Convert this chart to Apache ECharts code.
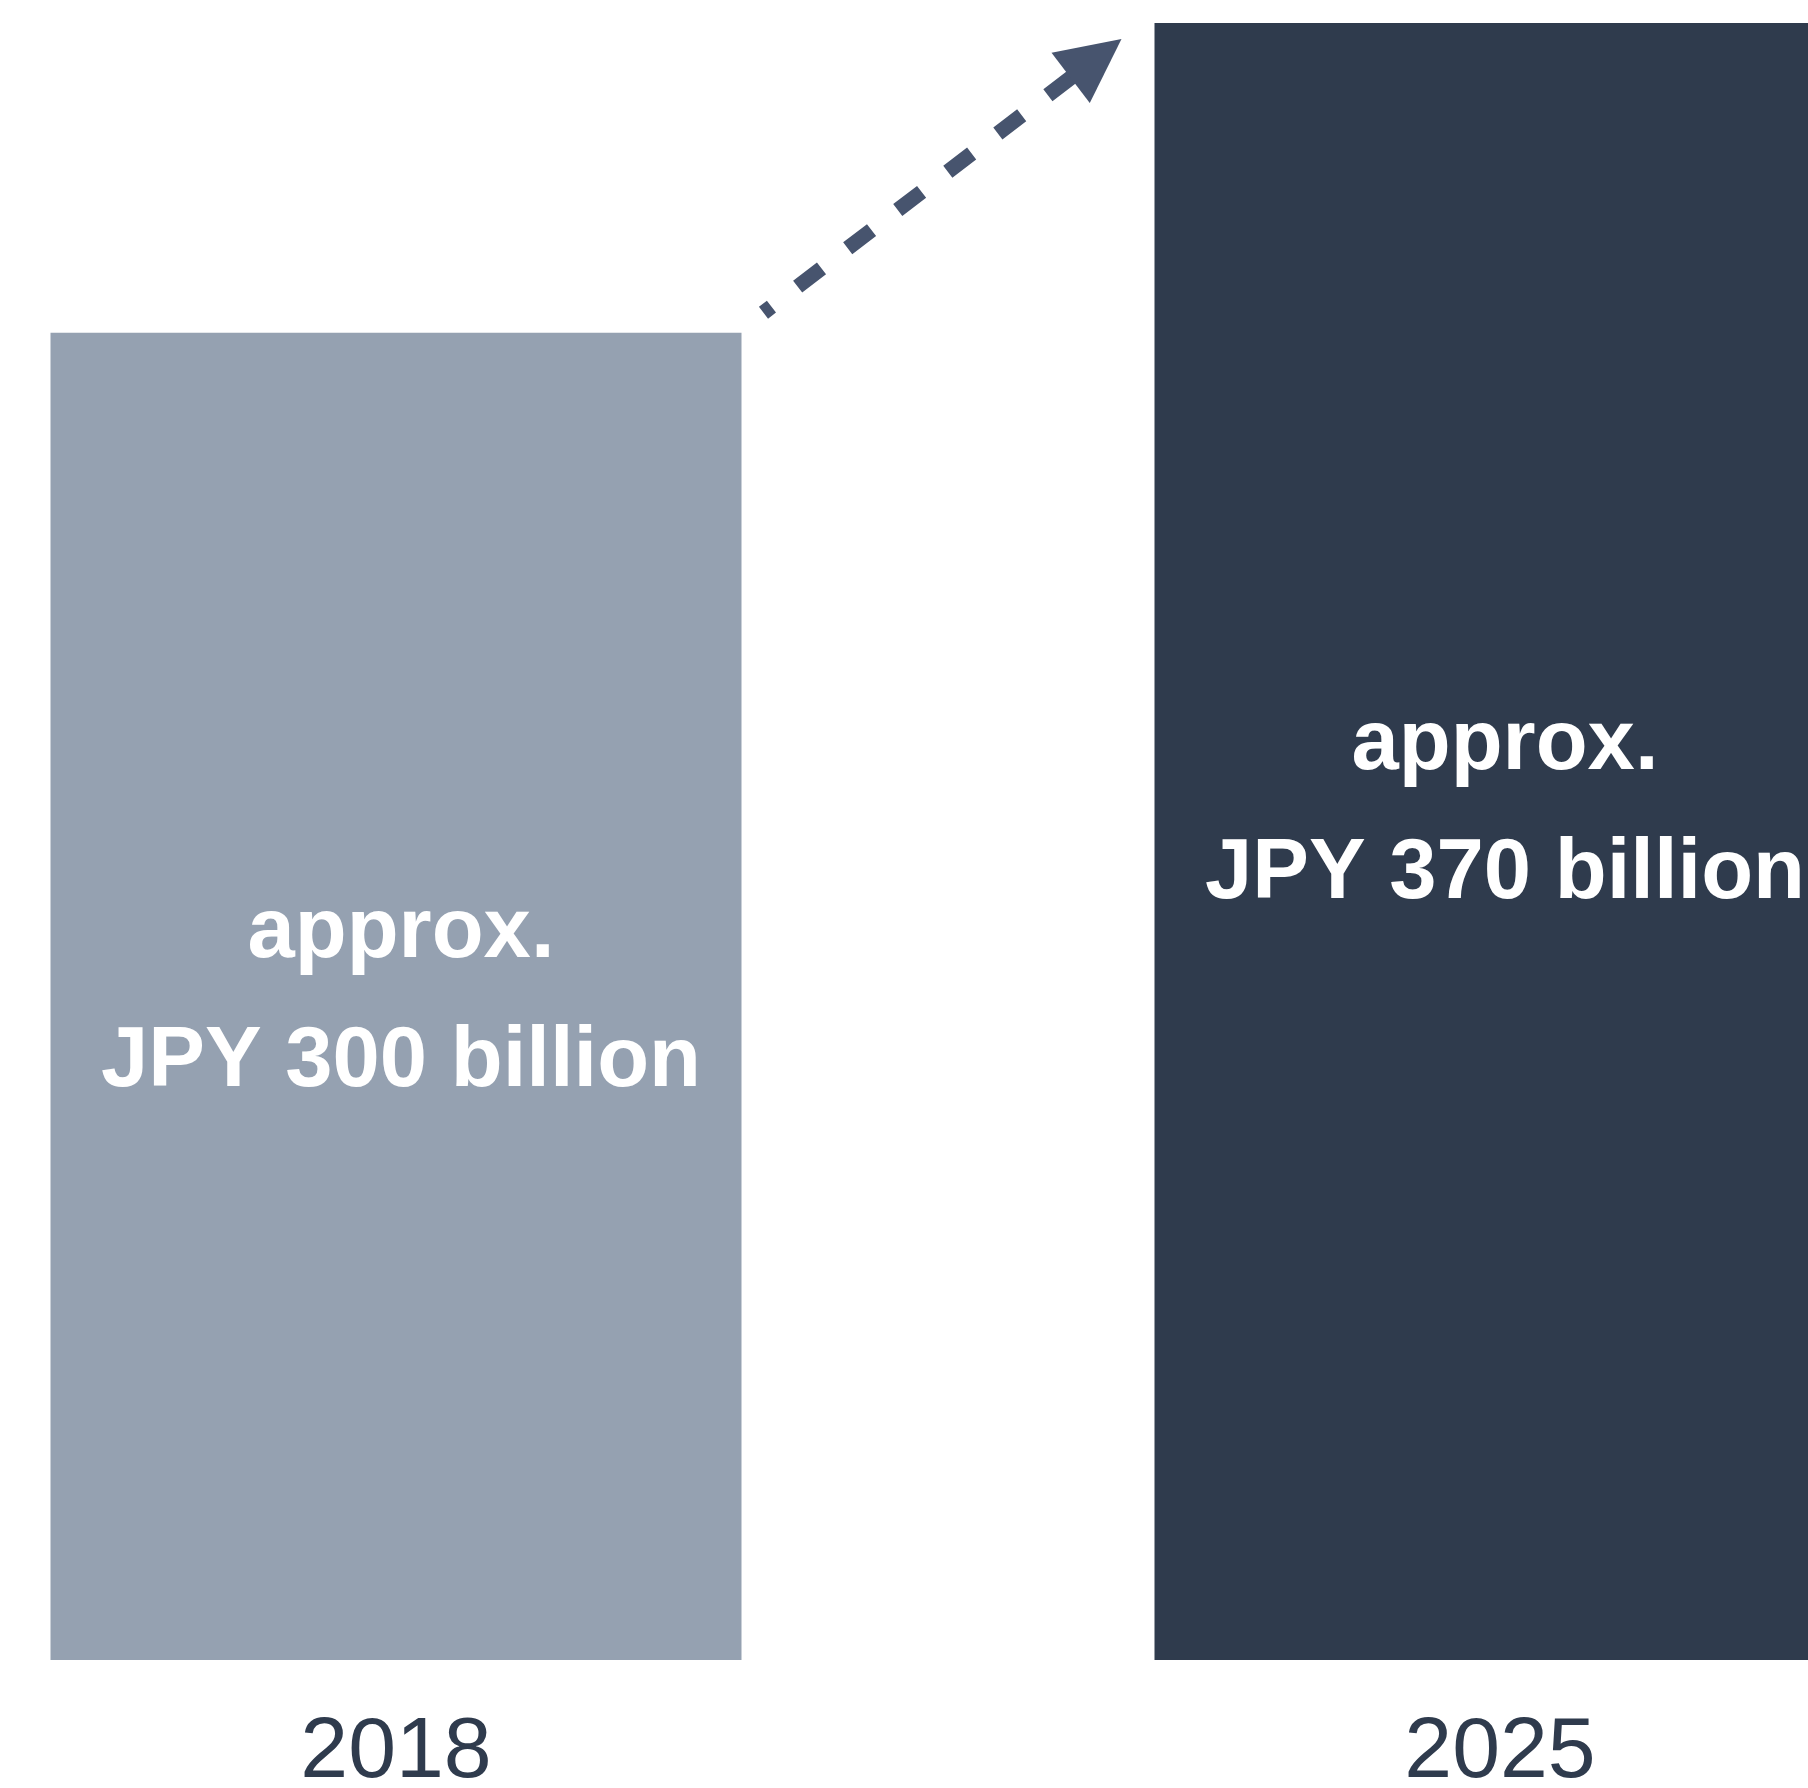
<!DOCTYPE html>
<html>
<head>
<meta charset="utf-8">
<script src="https://cdn.jsdelivr.net/npm/echarts@6/dist/echarts.min.js"></script>
<style>
  html, body { margin: 0; padding: 0; background: #ffffff; }
  #chart { width: 1808px; height: 1788px; }
</style>
</head>
<body>
<div id="chart"></div>
<script>
// Market size, JPY billion
const years = ['2018', '2025'];
const marketSize = [300, 370];
const valueLabels = ['approx.\nJPY 300 billion', 'approx.\nJPY 370 billion'];

const barColors = ['#95a1b1', '#2f3b4d'];
const labelShift = [[5, 2], [5, -31]];
const BAR_WIDTH = 691;

const chart = echarts.init(document.getElementById('chart'), null, { renderer: 'canvas' });

const option = {
  animation: false,
  backgroundColor: '#ffffff',
  grid: {
    left: -156, right: -244, top: 23, bottom: 128,
    containLabel: false,
    outerBoundsMode: 'none'
  },
  xAxis: {
    type: 'category',
    data: years,
    axisLine: { show: false },
    axisTick: { show: false },
    axisLabel: {
      color: '#2f3b4d',
      fontFamily: 'Liberation Sans, Arial, sans-serif',
      fontSize: 86,
      margin: 50
    }
  },
  yAxis: {
    type: 'value',
    min: 0,
    max: 370,
    show: false,
    splitLine: { show: false }
  },
  series: [{
    type: 'bar',
    barWidth: BAR_WIDTH,
    data: marketSize.map((v, i) => ({
      value: v,
      itemStyle: { color: barColors[i] },
      label: { offset: labelShift[i] }
    })),
    label: {
      show: true,
      position: 'inside',
      formatter: p => valueLabels[p.dataIndex],
      color: '#ffffff',
      fontFamily: 'Liberation Sans, Arial, sans-serif',
      fontWeight: 'bold',
      fontSize: 85,
      lineHeight: 129,
      align: 'center'
    }
  }]
};

chart.setOption(option);

// Dashed growth arrow between the tops of the two bars
function drawArrow() {
  const p0 = chart.convertToPixel({ seriesIndex: 0 }, [0, marketSize[0]]);
  const p1 = chart.convertToPixel({ seriesIndex: 0 }, [1, marketSize[1]]);
  const start = [p0[0] + BAR_WIDTH / 2 + 22, p0[1] - 20];
  const tip = [p1[0] - BAR_WIDTH / 2 - 33, p1[1] + 16];
  const dx = tip[0] - start[0], dy = tip[1] - start[1];
  const len = Math.hypot(dx, dy);
  const ux = dx / len, uy = dy / len;
  const headLen = 64, headHalf = 31.5;
  const base = [tip[0] - ux * headLen, tip[1] - uy * headLen];
  const nx = -uy, ny = ux;
  const color = '#47546e';
  chart.setOption({
    graphic: [
      {
        type: 'line',
        shape: { x1: start[0], y1: start[1], x2: base[0] + ux * 2, y2: base[1] + uy * 2 },
        style: { stroke: color, lineWidth: 15, lineDash: [30, 33], lineDashOffset: 20, lineCap: 'butt' },
        z: 10
      },
      {
        type: 'polygon',
        shape: {
          points: [
            tip,
            [base[0] + nx * headHalf, base[1] + ny * headHalf],
            [base[0] - nx * headHalf, base[1] - ny * headHalf]
          ]
        },
        style: { fill: color },
        z: 10
      }
    ]
  });
}
drawArrow();
</script>
</body>
</html>
